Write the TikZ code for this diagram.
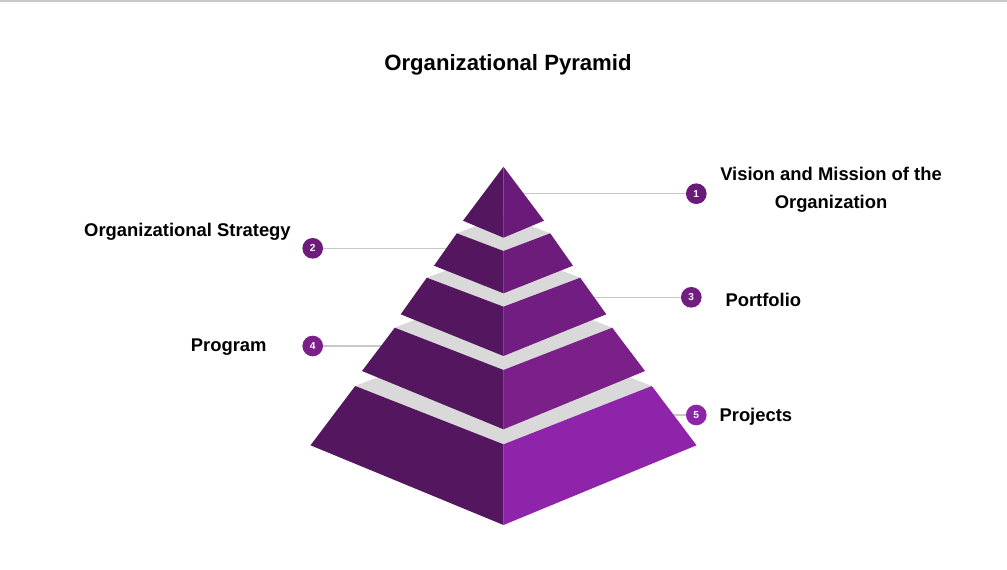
\documentclass[tikz,border=0pt]{standalone}
\usepackage{fontspec}
\setmainfont{Liberation Sans}
\usetikzlibrary{positioning}
\definecolor{leftface}{RGB}{84,22,94}
\definecolor{tierA}{RGB}{106,27,122}
\definecolor{tierB}{RGB}{109,28,124}
\definecolor{tierC}{RGB}{114,29,129}
\definecolor{tierD}{RGB}{123,32,137}
\definecolor{tierE}{RGB}{142,36,170}
\definecolor{band}{RGB}{217,217,217}
\definecolor{lijn}{RGB}{200,200,200}
\tikzset{
    %Define style for the numbered circles
    badge/.style={
           circle,
           inner sep=0pt,
           minimum size=15.5pt,
           text=white,
           font=\fontsize{7.6}{8}\selectfont\bfseries},
    %Define style for the labels
    txt/.style={
           inner sep=0pt,
           text=black,
           font=\fontsize{13.8}{21}\selectfont\bfseries},
    % Define connector style
    pil/.style={
           draw=lijn,
           line width=1.1pt},
    every node/.style={align=center}
}
\begin{document}
\begin{tikzpicture}[x=0.75pt, y=-0.75pt]
\useasboundingbox (0,0) rectangle (1007,570);
\draw[lijn, line width=1.2pt] (0,1) -- (1007,1);
%title
\node[txt, font=\fontsize{16.6}{20}\selectfont\bfseries] (title) at (508,64.5) {Organizational Pyramid};
%numbered circles
\node[badge, fill=tierA] (b1) at (696.3,193.7) {1};
\node[badge, fill=tierB] (b2) at (312.7,248.3) {2};
\node[badge, fill=tierC] (b3) at (691.3,297.3) {3};
\node[badge, fill=tierD] (b4) at (312.7,346) {4};
\node[badge, fill=tierE] (b5) at (696.3,415) {5};
%labels
\node[txt] (vision) at (831,189.5) {Vision and Mission of the\\Organization};
\node[txt, anchor=east] (strategy) at (291,231.5) {Organizational Strategy};
\node[txt, right=17.5pt of b3, yshift=-2pt] (portfolio) {Portfolio};
\node[txt, left=26.5pt of b4, yshift=-0.6pt] (program) {Program};
\node[txt, right=9.3pt of b5, yshift=-1.5pt] (projects) {Projects};
%ends of the connectors, hidden under the pyramid
\coordinate (e1) at (518,193.7);
\coordinate (e2) at (448,248.3);
\coordinate (e3) at (590,297.3);
\coordinate (e4) at (385,346);
\coordinate (e5) at (672,415);
\draw[pil] (b1) -- (e1);
\draw[pil] (b2) -- (e2);
\draw[pil] (b3) -- (e3);
\draw[pil] (b4) -- (e4);
\draw[pil] (b5) -- (e5);
%bottom tier
\fill[band] (355.2,386) -- (503.5,327.7) -- (651.8,386) -- (503.5,444.3) -- cycle;
\fill[leftface] (355.2,386) -- (503.5,444.3) -- (503.5,525) -- (310.5,445.3) -- cycle;
\fill[tierE] (503.5,444.3) -- (651.8,386) -- (696.5,445.3) -- (503.5,525) -- cycle;
%tier four
\fill[band] (394.8,327.7) -- (503.5,285.4) -- (612.2,327.7) -- (503.5,370) -- cycle;
\fill[leftface] (394.8,327.7) -- (503.5,370) -- (503.5,429.3) -- (362,371) -- cycle;
\fill[tierD] (503.5,370) -- (612.2,327.7) -- (645,371) -- (503.5,429.3) -- cycle;
%tier three
\fill[band] (426.8,277.7) -- (503.5,248.7) -- (580.2,277.7) -- (503.5,306.7) -- cycle;
\fill[leftface] (426.8,277.7) -- (503.5,306.7) -- (503.5,356) -- (400.7,314.3) -- cycle;
\fill[tierC] (503.5,306.7) -- (580.2,277.7) -- (606.3,314.3) -- (503.5,356) -- cycle;
%tier two
\fill[band] (456.8,233.3) -- (503.5,215.6) -- (550.2,233.3) -- (503.5,251) -- cycle;
\fill[leftface] (456.8,233.3) -- (503.5,251) -- (503.5,293.3) -- (434,265.7) -- cycle;
\fill[tierB] (503.5,251) -- (550.2,233.3) -- (573,265.7) -- (503.5,293.3) -- cycle;
%top
\fill[leftface] (503.5,166.7) -- (503.5,237.7) -- (463,220.7) -- cycle;
\fill[tierA] (503.5,166.7) -- (544,220.7) -- (503.5,237.7) -- cycle;
\end{tikzpicture}
\end{document}
